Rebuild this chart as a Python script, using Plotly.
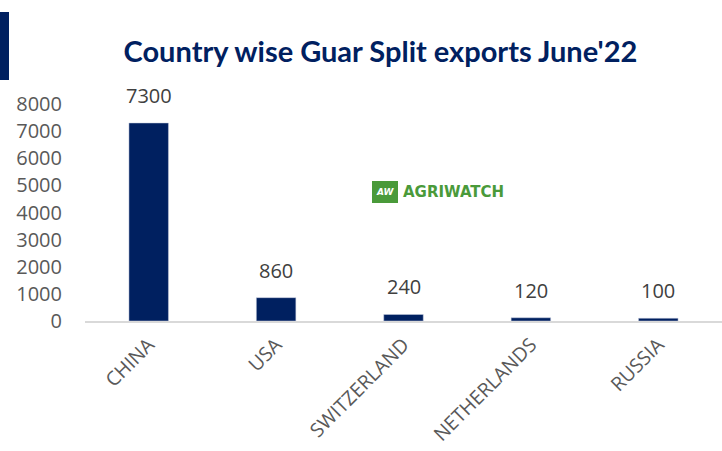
import plotly.graph_objects as go

countries = ["CHINA", "USA", "SWITZERLAND", "NETHERLANDS", "RUSSIA"]
exports = [7300, 860, 240, 120, 100]
y_ticks = [0, 1000, 2000, 3000, 4000, 5000, 6000, 7000, 8000]

navy = "#002060"
gray = "#595959"
lblfont = "Open Sans, sans-serif"

fig = go.Figure()
fig.add_trace(go.Bar(
    x=countries, y=exports,
    marker=dict(color=navy, line=dict(color="#c8cfe0", width=0.5)),
    cliponaxis=False,
))

annotations = [
    dict(x=c, y=v, xref="x", yref="y", text=str(v), showarrow=False,
         xanchor="center", yanchor="bottom", yshift=12,
         font=dict(family=lblfont, size=20, color="#404040"))
    for c, v in zip(countries, exports)
]
annotations += [
    dict(text="<b>AGRIWATCH</b>", xref="paper", yref="paper", x=(401-85)/637,
         y=(321-192)/217, xanchor="left", yanchor="middle", showarrow=False,
         font=dict(family="DejaVu Sans, sans-serif", size=15, color="#4a9a3a")),
    dict(text="<b><i>AW</i></b>", xref="paper", yref="paper", x=(385-85)/637,
         y=(321-192)/217, xanchor="center", yanchor="middle", showarrow=False,
         font=dict(family="DejaVu Sans, sans-serif", size=9, color="white")),
]

fig.update_layout(
    width=722, height=451,
    margin=dict(l=85, r=0, t=104, b=130),
    paper_bgcolor="white", plot_bgcolor="white",
    bargap=0.69,
    showlegend=False,
    title=dict(text="<b>Country wise Guar Split exports June'22</b>",
               x=0.527, xanchor="center", y=0.885, yanchor="middle",
               font=dict(family="Lato, Open Sans, sans-serif", size=29, color=navy)),
    xaxis=dict(showline=True, linecolor="#d9d9d9", linewidth=1.5, tickangle=-45,
               ticks="", ticklabelstandoff=3, automargin=False,
               tickfont=dict(family=lblfont, size=19.5, color=gray)),
    yaxis=dict(range=[0, 8000], tickvals=y_ticks, showgrid=False, zeroline=False,
               showline=False, ticks="", ticklabelstandoff=22, automargin=False,
               tickfont=dict(family=lblfont, size=20, color=gray)),
    shapes=[
        dict(type="rect", xref="paper", yref="paper", x0=-85/637, x1=-76/637,
             y0=(451-130-80)/217, y1=(451-130-12)/217, fillcolor=navy, line=dict(width=0)),
        dict(type="rect", xref="paper", yref="paper", x0=(372-85)/637, x1=(398-85)/637,
             y0=(321-203)/217, y1=(321-181)/217, fillcolor="#4a9a3a", line=dict(width=0)),
    ],
    annotations=annotations,
)

fig.write_html("out.html")
